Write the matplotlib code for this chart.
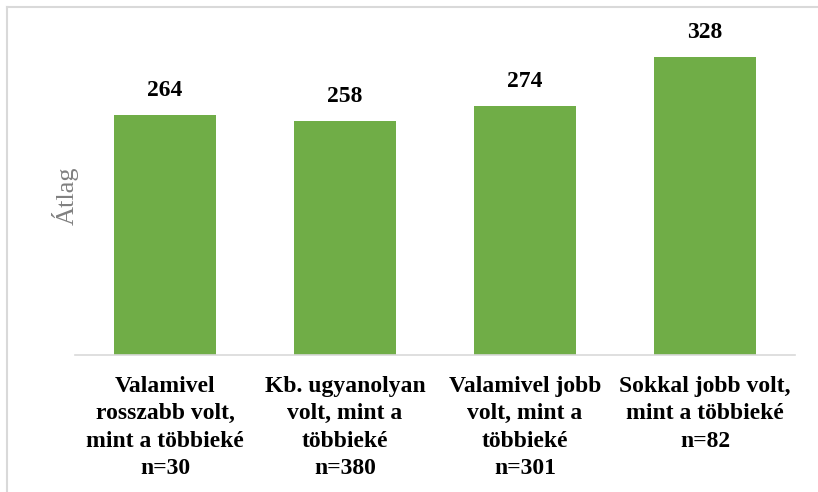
import matplotlib
matplotlib.use("Agg")
import matplotlib.pyplot as plt
from matplotlib.lines import Line2D

categories = [
    "Valamivel\nrosszabb volt,\nmint a többieké\nn=30",
    "Kb. ugyanolyan\nvolt, mint a\ntöbbieké\nn=380",
    "Valamivel jobb\nvolt, mint a\ntöbbieké\nn=301",
    "Sokkal jobb volt,\nmint a többieké\nn=82",
]
values = [264, 258, 274, 328]

W, H = 818, 492
fig = plt.figure(figsize=(W / 100, H / 100), dpi=100)
ax = fig.add_axes([75 / W, 1 - 355 / H, 720 / W, (355 - 37) / H])

serif = ["Liberation Serif", "DejaVu Serif"]
x = list(range(len(values)))
ax.bar(x, values, width=0.57, color="#70AD47", zorder=2)
ax.set_xlim(-0.5, len(values) - 0.5)
ax.set_ylim(0, 350)

for xi, v in zip(x, values):
    ax.annotate(str(v), (xi, v), xytext=(0, 10), textcoords="offset points",
                ha="center", va="bottom", fontsize=17, fontweight="bold",
                family=serif, color="black")

for s in ["top", "right", "left"]:
    ax.spines[s].set_visible(False)
ax.spines["bottom"].set_color("#D9D9D9")
ax.spines["bottom"].set_linewidth(1.2)
ax.set_yticks([])
ax.set_xticks(x)
ax.set_xticklabels(categories, fontsize=17, fontweight="bold", family=serif,
                   linespacing=1.4)
ax.tick_params(axis="x", length=0, pad=15)
ax.set_ylabel("Átlag", fontsize=19, family=serif, color="#808080", labelpad=-3)

# outer border (chart area frame)
fig.add_artist(Line2D([7 / W, 7 / W], [0, 1 - 7 / H], transform=fig.transFigure,
                      color="#D9D9D9", lw=1.5))
fig.add_artist(Line2D([7 / W, 1], [1 - 7 / H, 1 - 7 / H], transform=fig.transFigure,
                      color="#D9D9D9", lw=1.5))

fig.savefig("out.png", dpi=100)
